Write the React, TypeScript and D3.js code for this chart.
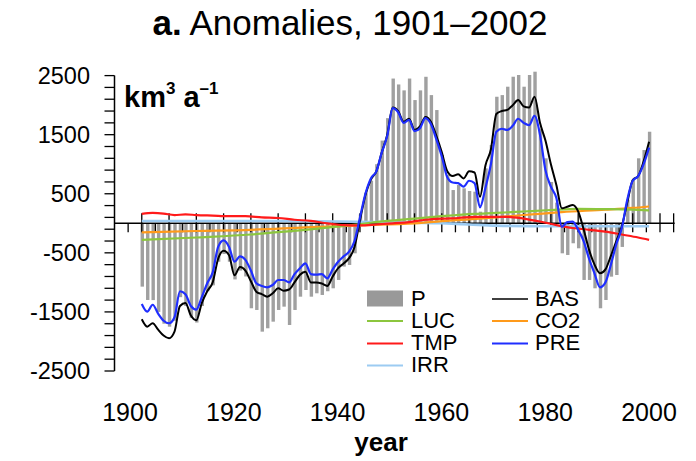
import React from "react";
import * as d3 from "d3";

// ---- data (km3 a-1 anomalies) ----
const START_YEAR = 1905;
const P = [
  -1072, -1298, -1300, -1500, -1700, -1750, -1650, -1250, -1400, -1600,
  -1680, -1400, -1150, -1050, -650, -520, -650, -950, -800, -900,
  -1438, -1467, -1834, -1777, -1665, -1467, -1411, -1721, -1467, -1242,
  -1129, -1242, -1185, -1213, -1150, -1100, -959, -733, -705, -508,
  150, 520, 720, 1000, 1400, 1780, 2450, 2350, 2250, 2450,
  2086, 2250, 2480, 2170, 1917, 1156, 817, 563, 648, 592,
  547, 535, 197, 930, 1325, 2142, 2170, 2312, 2481, 2510,
  2312, 2510, 2566, 1600, 1100, 700, 350, -508, -536, -338,
  -423, -959, -959, -1100, -1438, -1298, -903, -875, -400, 400,
  733, 1100, 1240, 1550,
];
const BAS = [
  -1625, -1749, -1690, -1800, -1900, -1946, -1834, -1400, -1350, -1560,
  -1640, -1350, -1150, -1000, -600, -463, -540, -880, -740, -800,
  -980, -1157, -1200, -1242, -1185, -1100, -1140, -1120, -1000, -870,
  -818, -1000, -1000, -1020, -1061, -900, -760, -680, -590, -400,
  50, 480, 740, 880, 1200, 1500, 1960, 1900, 1720, 1770,
  1580, 1640, 1800, 1720, 1480, 1200, 880, 800, 830, 760,
  880, 860, 450, 980, 1250, 1850, 1900, 1920, 2000, 2086,
  1980, 1960, 2142, 1700, 1400, 1000, 650, 254, 280, 310,
  200, -100, -450, -700, -846, -780, -550, -300, -50, 350,
  733, 800, 1050, 1381,
];
const PRE = [
  -1366, -1496, -1379, -1530, -1650, -1692, -1590, -1150, -1200, -1400,
  -1460, -1250, -1015, -830, -400, -290, -400, -650, -560, -620,
  -800, -1015, -1060, -1083, -1044, -960, -960, -1000, -860, -760,
  -677, -860, -870, -860, -931, -780, -650, -560, -480, -300,
  100, 500, 760, 880, 1200, 1480, 1950, 1880, 1700, 1750,
  1560, 1610, 1780, 1680, 1420, 1130, 780, 690, 680, 620,
  720, 680, 270, 600, 1000, 1550, 1600, 1580, 1650, 1770,
  1700, 1660, 1820, 1500, 900, 620, 430, -60, 20, 30,
  -110, -300, -600, -850, -1083, -1000, -700, -350, -80, 400,
  720, 800, 1000, 1280,
];
const TMP_YEARS = [1905, 1907, 1909, 1911, 1913, 1915, 1918, 1921, 1924, 1927, 1930, 1933, 1936, 1939, 1942, 1945, 1948, 1951, 1954, 1957, 1960, 1963, 1966, 1969, 1972, 1975, 1978, 1981, 1984, 1987, 1990, 1993, 1996, 1998];
const TMP = [160, 175, 165, 140, 150, 140, 130, 120, 120, 100, 90, 60, 40, 0, -30, -35, -20, 0, 20, 60, 80, 90, 110, 110, 110, 80, 30, -30, -80, -110, -140, -190, -240, -280];
const CO2_YEARS = [1905, 1915, 1925, 1935, 1945, 1955, 1962, 1970, 1975, 1982, 1990, 1995, 1998];
const CO2 = [-152, -130, -110, -70, -35, 0, 50, 100, 140, 190, 230, 260, 285];
const LUC_YEARS = [1905, 1915, 1925, 1930, 1935, 1942, 1950, 1955, 1960, 1966, 1970, 1975, 1980, 1985, 1990, 1995, 1998];
const LUC = [-282, -240, -190, -150, -110, -45, 40, 80, 120, 160, 175, 200, 225, 245, 240, 230, 220];
const IRR_YEARS = [1905, 1930, 1950, 1960, 1965, 1970, 1980, 1990, 1998];
const IRR = [40, 40, 20, 0, -20, -40, -50, -50, -50];

const Y_LABELS = [2500, 1500, 500, -500, -1500, -2500];
const X_LABELS = [1900, 1920, 1940, 1960, 1980, 2000];

const FONT = "'Liberation Sans', Arial, Helvetica, sans-serif";

export default function App() {
  const x = d3.scaleLinear().domain([1900, 2000]).range([114.5, 660]);
  const y = d3.scaleLinear().domain([-2500, 2500]).range([371, 75.6]);
  const xLab = d3.scaleLinear().domain([1900, 2000]).range([130, 649]);

  const yrs = P.map((_, i) => START_YEAR + i);
  const annual = (vals: number[]) => vals.map((v, i) => [yrs[i], v] as [number, number]);
  const pairs = (ys: number[], vs: number[]) => vs.map((v, i) => [ys[i], v] as [number, number]);

  const line = d3
    .line<[number, number]>()
    .x((d) => x(d[0]))
    .y((d) => y(d[1]))
    .curve(d3.curveMonotoneX);

  const yTicks = d3.range(-2500, 2501, 200);
  const xTicks = d3.range(1902.5, 2003, 2.5);
  const y0 = y(0);

  const legendRows = [305.5, 327.5, 350, 372];
  const col1 = 367, col2 = 492;
  const LF = 22;

  return (
    <svg
      width={696}
      height={461}
      style={{ position: "absolute", left: 0, top: 0, background: "#fff" }}
      fontFamily={FONT}
    >
      <rect x={0} y={0} width={696} height={461} fill="#fff" />
      {/* title */}
      <text x={350} y={35} textAnchor="middle" fontSize={35} fill="#000">
        <tspan fontWeight="bold">a.</tspan>
        <tspan> Anomalies, 1901–2002</tspan>
      </text>

      {/* unit label */}
      <text x={124} y={106.5} fontSize={29} fontWeight="bold" fill="#000">
        <tspan>km</tspan>
        <tspan fontSize={17} dy={-13}>3</tspan>
        <tspan dy={13}> a</tspan>
        <tspan fontSize={17} dy={-13}>–1</tspan>
      </text>

      {/* bars */}
      {P.map((v, i) => {
        const yr = yrs[i];
        const top = Math.min(y(v), y0);
        const h = Math.abs(y(v) - y0);
        return (
          <rect key={"b" + i} x={x(yr) + 0.5 - 1.7} y={top} width={3.4} height={h} fill="#a0a0a0" />
        );
      })}

      {/* y axis */}
      <line x1={x(1900)} x2={x(1900)} y1={y(2500)} y2={y(-2500)} stroke="#000" strokeWidth={1.5} />
      {yTicks.map((t) => (
        <line key={"yt" + t} x1={x(1900) - 10} x2={x(1900)} y1={y(t)} y2={y(t)} stroke="#000" strokeWidth={1.3} />
      ))}
      {Y_LABELS.map((t) => (
        <text key={"yl" + t} x={90} y={y(t) + 8} textAnchor="end" fontSize={23.5} fill="#000">
          {t < 0 ? "-" + Math.abs(t) : String(t)}
        </text>
      ))}

      {/* zero line and x ticks */}
      <line x1={x(1900)} x2={x(2002.5) + 1} y1={y0} y2={y0} stroke="#000" strokeWidth={1.5} />
      {xTicks.map((t) => {
        const major = t % 5 === 0 || t === 2002.5;
        return (
          <line
            key={"xt" + t}
            x1={x(t)}
            x2={x(t)}
            y1={major ? y0 - 10 : y0}
            y2={y0 + 9}
            stroke="#000"
            strokeWidth={1.3}
          />
        );
      })}
      {X_LABELS.map((t) => (
        <text key={"xl" + t} x={xLab(t)} y={421} textAnchor="middle" fontSize={25} fill="#000">
          {t}
        </text>
      ))}
      <text x={381} y={451} textAnchor="middle" fontSize={26} fontWeight="bold" fill="#000">
        year
      </text>

      {/* driver lines */}
      <path d={line(pairs(IRR_YEARS, IRR)) || ""} fill="none" stroke="#9ccbf2" strokeWidth={2.6} />
      <path d={line(pairs(CO2_YEARS, CO2)) || ""} fill="none" stroke="#ff9a1a" strokeWidth={2.2} />
      <path d={line(pairs(LUC_YEARS, LUC)) || ""} fill="none" stroke="#8cc63e" strokeWidth={2.2} />
      <path d={line(pairs(TMP_YEARS, TMP)) || ""} fill="none" stroke="#ff1a1a" strokeWidth={2.2} />
      <path d={line(annual(BAS)) || ""} fill="none" stroke="#000" strokeWidth={2} />
      <path d={line(annual(PRE)) || ""} fill="none" stroke="#1f2eff" strokeWidth={2.2} />

      {/* legend */}
      <rect x={col1} y={290.5} width={36} height={16} fill="#999" />
      <text x={411} y={legendRows[0]} fontSize={LF}>P</text>
      <line x1={col1} x2={col1 + 36} y1={321} y2={321} stroke="#8cc63e" strokeWidth={2} />
      <text x={411} y={legendRows[1]} fontSize={LF}>LUC</text>
      <line x1={col1} x2={col1 + 36} y1={343.5} y2={343.5} stroke="#ff1a1a" strokeWidth={2} />
      <text x={411} y={legendRows[2]} fontSize={LF}>TMP</text>
      <line x1={col1} x2={col1 + 36} y1={365.5} y2={365.5} stroke="#9ccbf2" strokeWidth={2} />
      <text x={411} y={legendRows[3]} fontSize={LF}>IRR</text>

      <line x1={col2} x2={col2 + 36} y1={299} y2={299} stroke="#000" strokeWidth={1.6} />
      <text x={535} y={legendRows[0]} fontSize={LF}>BAS</text>
      <line x1={col2} x2={col2 + 36} y1={321} y2={321} stroke="#ff9a1a" strokeWidth={2} />
      <text x={535} y={legendRows[1]} fontSize={LF}>CO2</text>
      <line x1={col2} x2={col2 + 36} y1={343.5} y2={343.5} stroke="#1f2eff" strokeWidth={2} />
      <text x={535} y={legendRows[2]} fontSize={LF}>PRE</text>
    </svg>
  );
}
